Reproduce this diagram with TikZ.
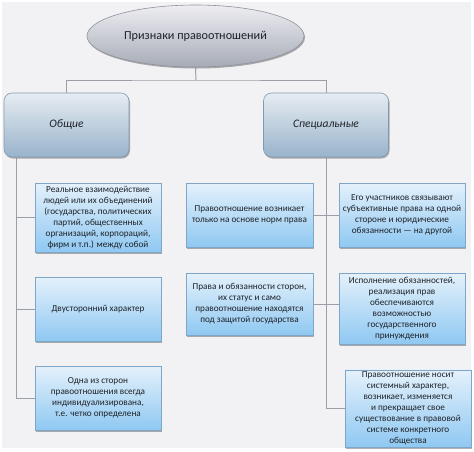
\documentclass[tikz,border=0pt]{standalone}
\usepackage{fontspec}
\setmainfont{Carlito}
\usetikzlibrary{shapes.geometric,shadows}
\definecolor{bgc}{HTML}{F2F2F4}
\definecolor{lnc}{HTML}{9A9EA6}
\definecolor{txc}{HTML}{1E2228}
\definecolor{elltop}{HTML}{EEEEF2}
\definecolor{ellbot}{HTML}{A6ABB6}
\definecolor{elldr}{HTML}{8E929C}
\definecolor{cattop}{HTML}{E6ECF2}
\definecolor{catbot}{HTML}{98B3CB}
\definecolor{catdr}{HTML}{8499AE}
\definecolor{leaftop}{HTML}{E4F1FB}
\definecolor{leafbot}{HTML}{8FC8F2}
\definecolor{leafdr}{HTML}{7FA6C6}
\tikzset{
  conn/.style={draw=lnc, line width=1pt},
  shad/.style={drop shadow={shadow xshift=1pt, shadow yshift=-1.5pt, opacity=0.3, fill=black}},
  titleell/.style={ellipse, draw=elldr, line width=0.6pt, top color=elltop, bottom color=ellbot,
    minimum width=217pt, minimum height=62pt, inner sep=0pt, text=txc, font=\fontsize{12.2}{14}\selectfont, shad},
  catbox/.style={rectangle, rounded corners=8pt, draw=catdr, line width=0.6pt, top color=cattop, bottom color=catbot,
    minimum width=125pt, minimum height=64pt, inner sep=0pt, text=txc, font=\fontsize{11.5}{13}\selectfont\itshape, shad},
  leafbox/.style={rectangle, draw=leafdr, line width=0.6pt, top color=leaftop, bottom color=leafbot,
    minimum width=126pt, inner sep=2pt, align=center, text=txc,
    font=\fontsize{9.2}{11}\selectfont, shad},
}
\begin{document}
\begin{tikzpicture}[x=1pt,y=-1pt]
\useasboundingbox (0,0) rectangle (474,451);
\fill[white] (0,0) rectangle (474,451);
\fill[bgc] (2,2) rectangle (471,448);

\node[titleell] (title) at (195.5,36) {Признаки правоотношений};
\node[catbox] (gen) at (66.5,125) {Общие};
\node[catbox] (spec) at (326,125) {Специальные};

\node[leafbox, minimum height=69pt] (L1) at (98,217.5) {Реальное взаимодействие\\людей или их объединений\\(государства, политических\\партий, общественных\\организаций, корпораций,\\фирм и т.п.) между собой};
\node[leafbox, minimum height=64pt] (L2) at (98,309) {Двусторонний характер};
\node[leafbox, minimum height=64pt] (L3) at (98,398) {Одна из сторон\\правоотношения всегда\\индивидуализирована,\\т.е. четко определена};

\node[leafbox, minimum width=127pt, minimum height=64pt] (M1) at (249.5,215) {Правоотношение возникает\\только на основе норм права};
\node[leafbox, minimum width=127pt, minimum height=62pt] (M2) at (249.5,304) {Права и обязанности сторон,\\их статус и само\\правоотношение находятся\\под защитой государства};

\node[leafbox, minimum height=64pt] (R1) at (402,215) {Его участников связывают\\субъективные права на одной\\стороне и юридические\\обязанности — на другой};
\node[leafbox, minimum height=71pt] (R2) at (402,308.5) {Исполнение обязанностей,\\реализация прав\\обеспечиваются\\возможностью\\государственного\\принуждения};
\node[leafbox, minimum height=77pt] (R3) at (408,408.5) {Правоотношение носит\\системный характер,\\возникает, изменяется\\и прекращает свое\\существование в правовой\\системе конкретного\\общества};

\coordinate (hub) at (196,80);
\coordinate (gt) at (16,157);

\draw[conn] (title.south) -- (hub);
\draw[conn] (gen.north) |- (hub) -| (spec.north);
\draw[conn] (gt) |- (L3.west);
\draw[conn] (gt |- L1.west) -- (L1.west);
\draw[conn] (gt |- L2.west) -- (L2.west);
\draw[conn] (spec.south) |- (R3.west);
\draw[conn] (M1.east) -- (M1.east -| R1.west);
\draw[conn] (M2.east) -- (M2.east -| R2.west);
\end{tikzpicture}
\end{document}
